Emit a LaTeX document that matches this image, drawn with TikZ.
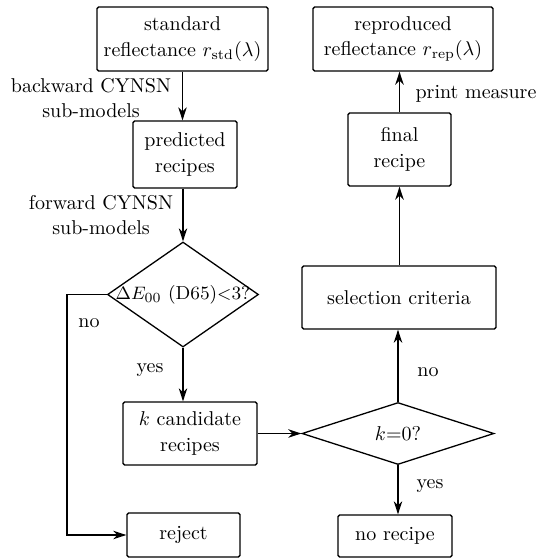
\documentclass[tikz,border=0pt]{standalone}
\usetikzlibrary{arrows.meta,shapes.geometric}
\begin{document}
\begin{tikzpicture}[x=0.5pt,y=-0.5pt,
  line width=0.65pt,
  box/.style={draw,rounded corners=0.8pt,align=center,inner sep=1pt,
    font=\fontsize{10}{12.8}\selectfont},
  dia/.style={draw,diamond,inner sep=0pt},
  lbl/.style={align=center,inner sep=0pt,font=\fontsize{10}{12.8}\selectfont},
  arr/.style={-{Stealth[length=6.5pt,width=4.2pt,inset=2pt]}}]
\useasboundingbox (0,0) rectangle (542,559);

% left column
\node[box,minimum width=85.5pt,minimum height=32pt] (std) at (182.5,39)
  {standard\\reflectance $r_{\mathrm{std}}(\lambda)$};
\node[box,minimum width=52pt,minimum height=33.5pt] (pred) at (185,154.5)
  {predicted\\recipes};
\node[dia,minimum width=75.5pt,minimum height=52.5pt] (de) at (183,294.5) {};
\node[lbl,font=\fontsize{9.4}{11}\selectfont] (det) at (de.center)
  {$\Delta E_{00}$ (D65)$<$3?};
\node[box,minimum width=67pt,minimum height=31.5pt] (cand) at (190,433.5)
  {$k$ candidate\\recipes};
\node[box,minimum width=56.5pt,minimum height=22pt] (rej) at (183.5,535) {reject};

% right column
\node[dia,minimum width=96pt,minimum height=31pt] (kz) at (398,433.5) {};
\node[lbl] (kzt) at (kz.center) {$k$=0?};
\node[box,minimum width=57pt,minimum height=21pt] (none) at (395,536) {no recipe};
\node[box,minimum width=97pt,minimum height=31.5pt] (sel) at (399,297.5)
  {selection criteria};
\node[box,minimum width=51.5pt,minimum height=36.5pt] (fin) at (399.5,149.5)
  {final\\recipe};
\node[box,minimum width=90pt,minimum height=32pt] (rep) at (403,39)
  {reproduced\\reflectance $r_{\mathrm{rep}}(\lambda)$};

% connectors
\draw[arr] (std.south) -- (std.south |- pred.north);
\draw[arr] (pred.south -| de.north) -- (de.north);
\draw[arr] (de.south) -- (de.south |- cand.north);
\coordinate (bend) at (67,294.5);
\draw[arr] (de.west) -- (bend) |- (rej.west);
\draw[arr] (cand.east) -- (kz.west);
\draw[arr] (kz.south) -- (kz.south |- none.north);
\draw[arr] (kz.north) -- (kz.north |- sel.south);
\draw[arr] (sel.north -| fin.south) -- (fin.south);
\draw[arr] (fin.north) -- (fin.north |- rep.south);

% connector labels
\node[lbl] (bw) at (91,98) {backward CYNSN\\sub-models};
\node[lbl] (fw) at (101,215) {forward CYNSN\\sub-models};
\node[lbl] (no1) at (89,323) {no};
\node[lbl] (yes1) at (150,370) {yes};
\node[lbl] (no2) at (428,372) {no};
\node[lbl] (yes2) at (430,486) {yes};
\node[lbl] (pm) at (476,94) {print measure};
\end{tikzpicture}
\end{document}
